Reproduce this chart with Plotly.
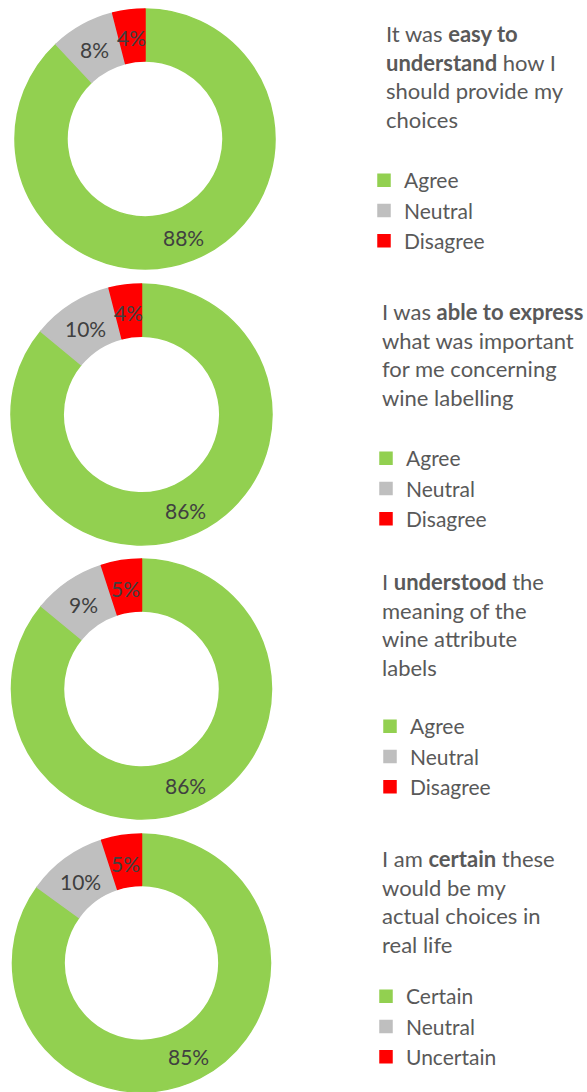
import math
import plotly.graph_objects as go

# Survey responses, one donut per statement (shares in %)
labels_agree = ["Agree", "Neutral", "Disagree"]
labels_certain = ["Certain", "Neutral", "Uncertain"]

easy_to_understand = [88, 8, 4]
able_to_express = [86, 10, 4]
understood_labels = [86, 9, 5]
certain_choices = [85, 10, 5]

questions = [
    "It was <b>easy to</b><br><b>understand</b> how I<br>should provide my<br>choices",
    "I was <b>able to express</b><br>what was important<br>for me concerning<br>wine labelling",
    "I <b>understood</b> the<br>meaning of the<br>wine attribute<br>labels",
    "I am <b>certain</b> these<br>would be my<br>actual choices in<br>real life",
]

colors = ["#92D050", "#BFBFBF", "#FF0000"]
FONT = "Lato"
W, H = 587, 1092
HOLE = 0.6

# pixel boxes of each donut (left, right, top, bottom)
boxes = [
    (15, 275, 9, 269),
    (11, 272, 284, 545),
    (11.5, 271.5, 559, 819),
    (12, 271, 834, 1092),
]
# question text anchor (left px, top px) and legend anchor (left px, top px)
q_pos = [(384, 18), (380, 296), (380, 566), (380, 843)]
leg_pos = [(364, 160), (366, 438), (370, 706), (366, 976)]

series = [
    (labels_agree, easy_to_understand),
    (labels_agree, able_to_express),
    (labels_agree, understood_labels),
    (labels_certain, certain_choices),
]

fig = go.Figure()
layout_legends = {}
annotations = []
for i, ((labs, vals), (l, r, t, b)) in enumerate(zip(series, boxes)):
    legend_name = "legend" if i == 0 else f"legend{i + 1}"
    # each donut keeps its own legend entries (pie legends are keyed by label)
    own_labels = [lab + "\u200b" * i for lab in labs]
    fig.add_trace(go.Pie(
        labels=own_labels,
        values=vals,
        hole=HOLE,
        sort=False,
        direction="clockwise",
        rotation=0,
        marker=dict(colors=colors, line=dict(color=colors, width=1.5)),
        textinfo="none",
        domain=dict(x=[l / W, r / W], y=[1 - b / H, 1 - t / H]),
        legend=legend_name,
        showlegend=True,
        hoverinfo="label+percent",
    ))

    # value labels at the middle of each ring segment
    cx, cy = (l + r) / 2, (t + b) / 2
    radius = min(r - l, b - t) / 2
    rm = radius * (1 + HOLE) / 2
    total = sum(vals)
    cum = 0
    for v in vals:
        ang = 2 * math.pi * (cum + v / 2) / total
        cum += v
        px = cx + rm * math.sin(ang)
        py = cy - rm * math.cos(ang) + 2
        annotations.append(dict(
            text=f"{v}%", x=px / W, y=1 - py / H, xref="paper", yref="paper",
            xanchor="center", yanchor="middle", showarrow=False,
            font=dict(family=FONT, size=21, color="#404040"),
        ))

    lx, ly = leg_pos[i]
    layout_legends[legend_name] = dict(
        x=lx / W, y=1 - ly / H, xanchor="left", yanchor="top",
        font=dict(family=FONT, size=21, color="#595959"),
        bgcolor="rgba(0,0,0,0)", traceorder="normal",
    )
    qx, qy = q_pos[i]
    annotations.append(dict(
        text=questions[i], x=qx / W, y=1 - qy / H, xref="paper", yref="paper",
        xanchor="left", yanchor="top", align="left", showarrow=False,
        font=dict(family=FONT, size=22, color="#595959"),
    ))

fig.update_layout(
    width=W, height=H,
    margin=dict(l=0, r=0, t=0, b=0),
    paper_bgcolor="white",
    plot_bgcolor="white",
    annotations=annotations,
    **layout_legends,
)

fig.write_html("out.html")
